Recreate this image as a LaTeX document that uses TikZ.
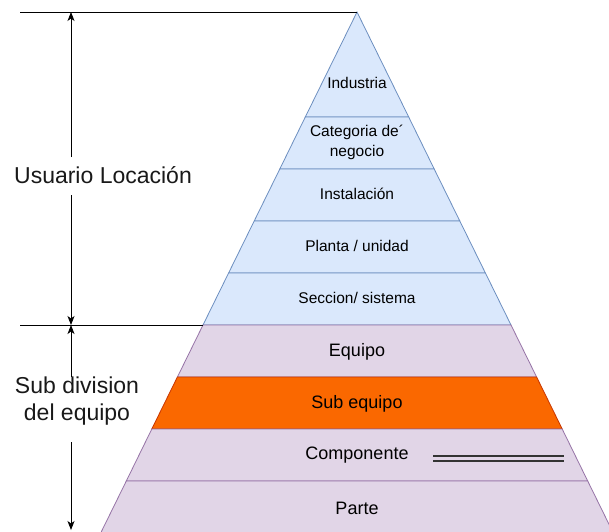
\documentclass[tikz,border=0pt]{standalone}
\usepackage{fontspec}
\setmainfont{Liberation Sans}
\usetikzlibrary{arrows.meta}
\definecolor{bluefill}{HTML}{DAE8FC}
\definecolor{bluestroke}{HTML}{6C8EBF}
\definecolor{purplefill}{HTML}{E1D5E7}
\definecolor{purplestroke}{HTML}{9673A6}
\definecolor{orangefill}{HTML}{FA6800}
\definecolor{orangestroke}{HTML}{C73500}
\begin{document}
\begin{tikzpicture}[x=1pt,y=-1pt,
  blueband/.style={fill=bluefill,draw=bluestroke,line width=0.8pt},
  purpleband/.style={fill=purplefill,draw=purplestroke,line width=0.8pt},
  orangeband/.style={fill=orangefill,draw=orangestroke,line width=0.8pt},
  toplabel/.style={font=\fontsize{15.5}{20}\selectfont,align=center,text=black,inner sep=0pt},
  botlabel/.style={font=\fontsize{18}{22}\selectfont,align=center,text=black,inner sep=0pt},
  sidelabel/.style={font=\fontsize{23}{27}\selectfont,align=center,text=black!90,inner sep=0pt},
  guide/.style={line width=0.9pt,black},
  dim/.style={line width=0.9pt,black,-{Stealth[length=9pt,width=7pt,inset=2.5pt]}},
  dblline/.style={line width=1.2pt,black!80}]
\useasboundingbox (0,0) rectangle (609,531);
\clip (0,0) rectangle (609,531);
% bands
\draw[blueband] (357,12) -- (305.3,117) -- (408.7,117) -- cycle;
\draw[blueband] (305.3,117) -- (279.8,169) -- (434.2,169) -- (408.7,117) -- cycle;
\draw[blueband] (279.8,169) -- (254.2,221) -- (459.8,221) -- (434.2,169) -- cycle;
\draw[blueband] (254.2,221) -- (228.6,273) -- (485.4,273) -- (459.8,221) -- cycle;
\draw[blueband] (228.6,273) -- (203.0,325) -- (511.0,325) -- (485.4,273) -- cycle;
\draw[purpleband] (203.0,325) -- (177.4,377) -- (536.6,377) -- (511.0,325) -- cycle;
\draw[orangeband] (177.4,377) -- (151.8,429) -- (562.2,429) -- (536.6,377) -- cycle;
\draw[purpleband] (151.8,429) -- (126.3,481) -- (587.7,481) -- (562.2,429) -- cycle;
\draw[purpleband] (126.3,481) -- (100.7,533) -- (613.3,533) -- (587.7,481) -- cycle;
% labels
\node[toplabel] (industria) at (357,83) {Industria};
\node[toplabel] (categoria) at (357,142) {Categoria de´\\negocio};
\node[toplabel] (instalacion) at (357,194) {Instalación};
\node[toplabel] (planta) at (357,246) {Planta / unidad};
\node[toplabel] (seccion) at (357,298) {Seccion/ sistema};
\node[botlabel] (equipo) at (357,352) {Equipo};
\node[botlabel] (subequipo) at (357,404) {Sub equipo};
\node[botlabel] (componente) at (357,455) {Componente};
\node[botlabel] (parte) at (357,508) {Parte};
% double line
\coordinate (dl1) at (433,456);
\coordinate (dr1) at (564,456);
\coordinate (dl2) at (433,461);
\coordinate (dr2) at (564,461);
\draw[dblline] (dl1) -- (dr1);
\draw[dblline] (dl2) -- (dr2);
% guide lines
\coordinate (apex) at (357,12);
\coordinate (topleft) at (20,12);
\coordinate (midleft) at (20,325);
\coordinate (midright) at (203,325);
\draw[guide] (topleft) -- (apex);
\draw[guide] (midleft) -- (midright);
% side labels
\node[sidelabel] (usuario) at (103,175) {Usuario Locación};
\node[sidelabel] (subdiv) at (77,401) {Sub division\\del equipo};
\coordinate (a1s) at (71,157);
\coordinate (a1e) at (71,12);
\coordinate (a2s) at (71,195);
\coordinate (a2e) at (71,325);
\coordinate (a3s) at (71,377);
\coordinate (a3e) at (71,325);
\coordinate (a4s) at (71,442);
\coordinate (a4e) at (71,530);
\draw[dim] (a1s) -- (a1e);
\draw[dim] (a2s) -- (a2e);
\draw[dim] (a3s) -- (a3e);
\draw[dim] (a4s) -- (a4e);
\end{tikzpicture}
\end{document}
